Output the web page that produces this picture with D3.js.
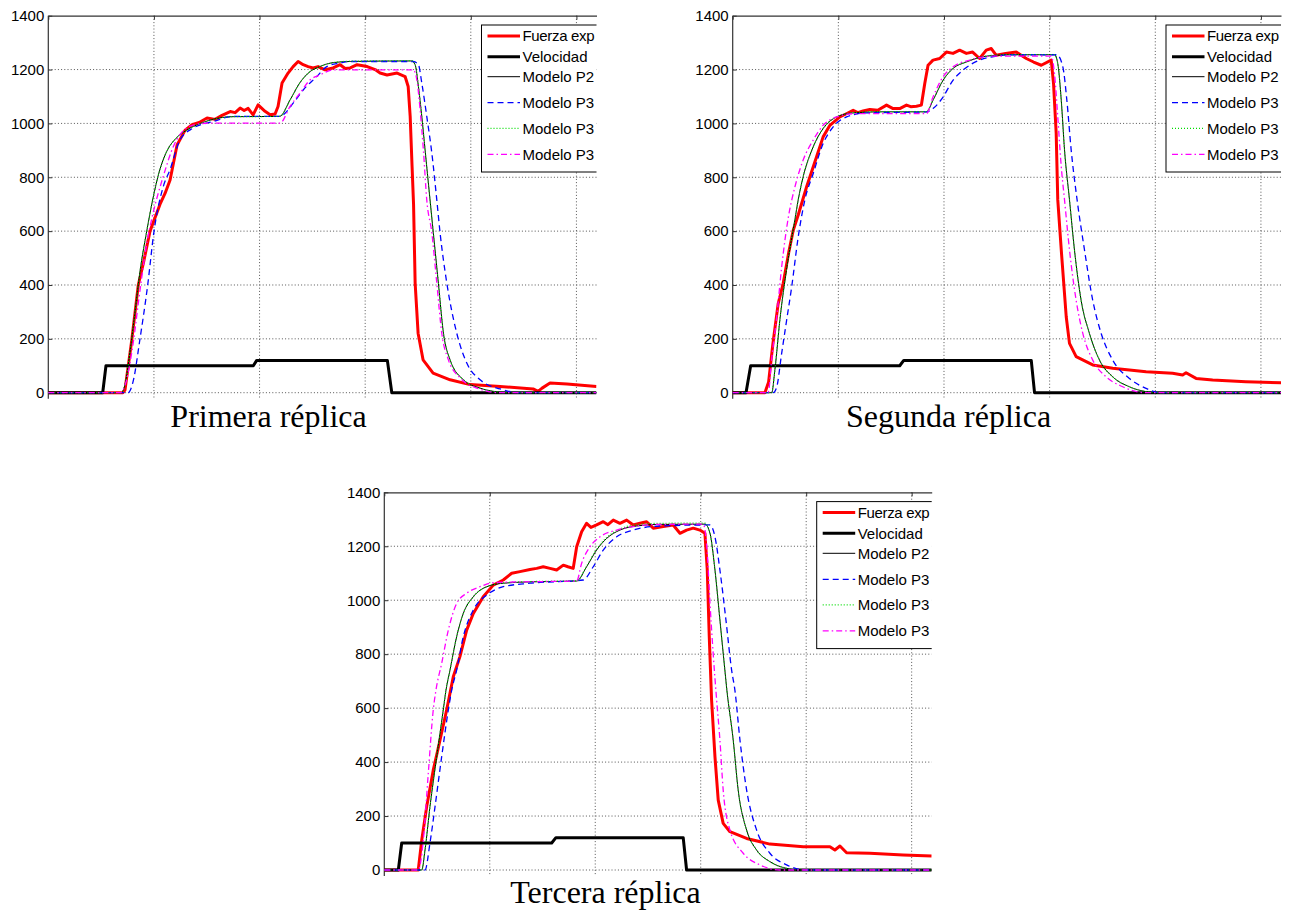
<!DOCTYPE html>
<html lang="es">
<head>
  <meta charset="UTF-8">
  <title>Réplicas: fuerza experimental y modelos</title>
  <script src="https://d3js.org/d3.v7.min.js"></script>
  <style>
    body { margin: 0; background: white; }
    svg { display: block; }
    .tick text { font-family: "Liberation Sans", Arial, sans-serif; font-size: 15px; fill: #000; }
    .legend text { font-family: "Liberation Sans", Arial, sans-serif; font-size: 15px; }
    .caption { font-family: "Liberation Serif", "Times New Roman", serif; font-size: 32px; }
  </style>
</head>
<body>
  <div id="chart"></div>
  <script>
    // ticks & labels
    const xTicks = [0, 1, 2, 3, 4, 5];
    const yTicks = [0, 200, 400, 600, 800, 1000, 1200, 1400];
    const captions = ["Primera réplica", "Segunda réplica", "Tercera réplica"];
    // the legend is cut by the right edge of each panel in the original
    const legendLabels = ["Fuerza exp", "Velocidad", "Modelo P2", "Modelo P3", "Modelo P3", "Modelo P3"];

    // ---- Primera réplica ----
    const fuerza1 = [[0,0],[0.707,0],[0.726,10],[0.79,195],[0.852,400],[0.9,481],[0.963,600],[1.058,700],[1.105,740],[1.153,790],[1.219,920],[1.295,975],[1.361,995],[1.436,1005],[1.503,1020],[1.579,1015],[1.645,1030],[1.722,1044],[1.769,1040],[1.816,1057],[1.854,1048],[1.892,1056],[1.939,1032],[1.986,1069],[2.024,1055],[2.052,1045],[2.1,1032],[2.147,1035],[2.175,1063],[2.213,1150],[2.27,1187],[2.318,1211],[2.365,1230],[2.413,1218],[2.46,1211],[2.507,1206],[2.554,1211],[2.62,1199],[2.696,1206],[2.763,1218],[2.81,1204],[2.858,1206],[2.924,1218],[3.019,1211],[3.094,1200],[3.141,1187],[3.207,1180],[3.302,1187],[3.378,1174],[3.407,1137],[3.426,1026],[3.444,840],[3.458,700],[3.473,407],[3.501,221],[3.548,122],[3.643,73],[3.804,48],[3.993,30],[4.277,23],[4.59,14],[4.637,5],[4.675,17],[4.75,36],[4.911,32],[5.19,23]];
    const velocidad1 = [[0,0],[0.515,0],[0.546,100],[1.941,100],[1.973,120],[3.21,120],[3.252,0],[5.19,0]];
    const modeloP2_1 = [[0,0],[0.689,0],[0.726,30],[0.773,150],[0.821,300],[0.868,450],[0.932,600],[0.99,720],[1.05,820],[1.12,895],[1.21,945],[1.31,975],[1.44,1000],[1.59,1018],[1.75,1025],[2.19,1026],[2.29,1088],[2.38,1150],[2.48,1193],[2.57,1211],[2.7,1226],[2.86,1230],[3.44,1232],[3.473,1218],[3.504,1137],[3.536,1026],[3.567,902],[3.614,716],[3.645,594],[3.693,407],[3.741,221],[3.804,122],[3.93,48],[4.088,17],[4.214,5],[4.33,0],[5.19,0]];
    const modeloP3a_1 = [[0,0],[0.755,0],[0.802,40],[0.868,200],[0.941,400],[1.001,600],[1.089,766],[1.152,828],[1.247,939],[1.373,983],[1.563,1007],[1.749,1026],[2.19,1026],[2.225,1032],[2.32,1076],[2.415,1125],[2.542,1174],[2.636,1211],[2.762,1224],[2.857,1230],[3.456,1230],[3.504,1218],[3.536,1150],[3.583,1026],[3.631,890],[3.678,716],[3.709,594],[3.773,407],[3.867,221],[3.962,110],[4.088,48],[4.277,14],[4.467,0],[5.19,0]];
    const modeloP3b_1 = [[0,0],[0.689,0],[0.726,30],[0.773,150],[0.821,300],[0.868,450],[0.932,600],[0.99,720],[1.05,820],[1.12,895],[1.21,945],[1.31,975],[1.44,1000],[1.59,1018],[1.75,1025],[2.19,1026],[2.29,1088],[2.38,1150],[2.48,1193],[2.57,1211],[2.7,1226],[2.86,1231],[3.44,1233],[3.473,1218],[3.504,1137],[3.536,1026],[3.567,902],[3.614,716],[3.645,594],[3.693,407],[3.741,221],[3.804,122],[3.93,48],[4.088,17],[4.214,5],[4.33,0],[5.19,0]];
    const modeloP3c_1 = [[0,0],[0.679,0],[0.736,40],[0.802,180],[0.868,380],[0.935,560],[0.982,650],[1.089,804],[1.184,914],[1.311,983],[1.437,999],[1.53,1001],[2.194,1001],[2.289,1063],[2.384,1113],[2.479,1162],[2.573,1180],[2.699,1199],[3.456,1199],[3.489,1162],[3.52,1051],[3.551,902],[3.583,716],[3.631,594],[3.678,407],[3.725,221],[3.788,122],[3.899,55],[4.057,17],[4.277,0],[5.19,0]];

    // ---- Segunda réplica ----
    const fuerza2 = [[0,0],[0.305,0],[0.34,40],[0.38,180],[0.43,330],[0.478,406],[0.53,520],[0.573,603],[0.62,660],[0.699,764],[0.794,876],[0.856,950],[0.92,993],[1.014,1024],[1.071,1035],[1.14,1049],[1.184,1040],[1.234,1046],[1.298,1052],[1.373,1049],[1.456,1068],[1.518,1055],[1.581,1055],[1.645,1068],[1.685,1062],[1.739,1064],[1.786,1068],[1.818,1148],[1.849,1216],[1.896,1235],[1.959,1241],[2.023,1265],[2.085,1260],[2.148,1272],[2.212,1260],[2.271,1265],[2.337,1241],[2.4,1272],[2.448,1278],[2.495,1253],[2.583,1260],[2.684,1265],[2.779,1241],[2.848,1228],[2.921,1216],[3.015,1235],[3.037,1148],[3.062,963],[3.077,716],[3.11,530],[3.157,282],[3.188,183],[3.251,134],[3.408,103],[3.597,91],[3.913,78],[4.164,72],[4.259,66],[4.291,74],[4.386,53],[4.543,47],[4.858,41],[5.19,37]];
    const velocidad2 = [[0,0],[0.126,0],[0.17,100],[1.581,100],[1.619,120],[2.826,120],[2.857,0],[5.19,0]];
    const modeloP2_2 = [[0,0],[0.369,0],[0.4,87],[0.447,272],[0.51,458],[0.589,643],[0.62,716],[0.667,802],[0.762,913],[0.856,981],[0.983,1024],[1.14,1039],[1.392,1043],[1.834,1043],[1.896,1086],[1.991,1160],[2.085,1204],[2.212,1228],[2.337,1245],[2.495,1253],[2.64,1255],[3.046,1255],[3.077,1222],[3.11,1086],[3.141,901],[3.188,716],[3.235,530],[3.298,343],[3.377,220],[3.472,121],[3.597,59],[3.755,22],[3.913,4],[4.04,0],[5.19,0]];
    const modeloP3a_2 = [[0,0],[0.384,0],[0.416,20],[0.463,145],[0.51,268],[0.558,392],[0.62,578],[0.683,716],[0.762,814],[0.856,925],[0.951,987],[1.078,1024],[1.26,1039],[1.834,1043],[1.896,1055],[1.991,1098],[2.085,1160],[2.18,1198],[2.337,1235],[2.495,1250],[2.64,1255],[3.068,1255],[3.125,1210],[3.163,1086],[3.204,901],[3.26,716],[3.33,530],[3.408,343],[3.488,220],[3.597,121],[3.755,53],[3.913,16],[4.04,0],[5.19,0]];
    const modeloP3b_2 = [[0,0],[0.369,0],[0.4,87],[0.447,272],[0.51,458],[0.589,643],[0.62,716],[0.667,802],[0.762,913],[0.856,981],[0.983,1024],[1.14,1040],[1.392,1044],[1.834,1044],[1.896,1087],[1.991,1161],[2.085,1205],[2.212,1229],[2.337,1246],[2.495,1254],[2.64,1256],[3.046,1256],[3.077,1222],[3.11,1086],[3.141,901],[3.188,716],[3.235,530],[3.298,343],[3.377,220],[3.472,121],[3.597,59],[3.755,22],[3.913,4],[4.04,0],[5.19,0]];
    const modeloP3c_2 = [[0,0],[0.336,0],[0.369,126],[0.416,280],[0.463,465],[0.526,650],[0.589,764],[0.667,864],[0.762,938],[0.856,993],[0.983,1024],[1.14,1036],[1.834,1036],[1.896,1098],[1.991,1173],[2.085,1210],[2.243,1235],[2.495,1250],[3.015,1250],[3.046,1185],[3.077,1024],[3.11,839],[3.141,716],[3.188,530],[3.251,343],[3.314,220],[3.408,121],[3.535,59],[3.692,22],[3.913,0],[5.19,0]];

    // ---- Tercera réplica ----
    const fuerza3 = [[0,0],[0.322,0],[0.355,111],[0.402,235],[0.464,370],[0.528,481],[0.591,593],[0.654,716],[0.717,791],[0.781,889],[0.844,951],[0.938,1013],[1.033,1056],[1.128,1075],[1.208,1100],[1.286,1106],[1.381,1114],[1.445,1118],[1.507,1124],[1.571,1118],[1.634,1112],[1.697,1130],[1.741,1124],[1.791,1118],[1.824,1198],[1.871,1254],[1.918,1285],[1.959,1270],[2.013,1279],[2.076,1291],[2.12,1280],[2.171,1297],[2.234,1285],[2.298,1297],[2.36,1279],[2.424,1285],[2.487,1291],[2.55,1267],[2.645,1273],[2.739,1279],[2.803,1248],[2.866,1260],[2.929,1267],[2.992,1260],[3.04,1248],[3.062,1112],[3.081,865],[3.103,630],[3.135,420],[3.166,259],[3.213,173],[3.277,142],[3.435,117],[3.656,96],[3.972,86],[4.225,86],[4.272,74],[4.32,89],[4.383,64],[4.604,62],[4.919,56],[5.19,52]];
    const velocidad3 = [[0,0],[0.133,0],[0.165,100],[1.587,100],[1.627,120],[2.834,120],[2.866,0],[5.19,0]];
    const modeloP2_3 = [[0,0],[0.355,0],[0.386,74],[0.433,235],[0.497,420],[0.559,593],[0.585,667],[0.623,741],[0.686,865],[0.749,951],[0.844,1013],[0.971,1050],[1.128,1063],[1.381,1068],[1.824,1071],[1.918,1124],[2.013,1186],[2.108,1229],[2.234,1260],[2.392,1275],[2.613,1281],[3.04,1282],[3.088,1248],[3.135,1112],[3.182,927],[3.229,741],[3.248,667],[3.308,482],[3.355,297],[3.435,148],[3.53,74],[3.656,31],[3.814,6],[3.94,0],[5.19,0]];
    const modeloP3a_3 = [[0,0],[0.386,0],[0.433,100],[0.481,235],[0.544,420],[0.607,593],[0.639,667],[0.686,741],[0.749,865],[0.844,964],[0.971,1019],[1.128,1050],[1.381,1063],[1.886,1075],[1.981,1124],[2.076,1186],[2.203,1235],[2.36,1260],[2.613,1275],[3.086,1279],[3.135,1235],[3.182,1112],[3.239,927],[3.293,741],[3.324,667],[3.372,482],[3.435,297],[3.53,148],[3.656,62],[3.814,19],[4.0,0],[5.19,0]];
    const modeloP3b_3 = [[0,0],[0.355,0],[0.386,74],[0.433,235],[0.497,420],[0.559,593],[0.585,667],[0.623,741],[0.686,865],[0.749,951],[0.844,1013],[0.971,1050],[1.128,1064],[1.381,1069],[1.824,1072],[1.918,1126],[2.013,1189],[2.108,1232],[2.234,1264],[2.392,1280],[2.613,1285],[3.04,1286],[3.088,1248],[3.135,1112],[3.182,927],[3.229,741],[3.248,667],[3.308,482],[3.355,297],[3.435,148],[3.53,74],[3.656,31],[3.814,6],[3.94,0],[5.19,0]];
    const modeloP3c_3 = [[0,0],[0.322,0],[0.37,111],[0.417,358],[0.464,593],[0.49,667],[0.544,766],[0.607,889],[0.686,988],[0.781,1026],[0.907,1050],[1.033,1065],[1.286,1068],[1.824,1071],[1.871,1137],[1.95,1198],[2.045,1235],[2.203,1260],[2.392,1275],[2.613,1281],[3.024,1282],[3.062,1174],[3.088,988],[3.118,803],[3.151,630],[3.182,482],[3.213,297],[3.277,148],[3.403,62],[3.561,19],[3.75,0],[5.19,0]];

    const styles = [
      { stroke: "#ff0000", width: 3, dash: null, smooth: false },
      { stroke: "#000000", width: 3, dash: null, smooth: false },
      { stroke: "#000000", width: 1, dash: null, smooth: true },
      { stroke: "#0000ff", width: 1.3, dash: "6,4", smooth: true },
      { stroke: "#00dd00", width: 1.2, dash: "1,2", smooth: true },
      { stroke: "#ff00ff", width: 1.3, dash: "6,3,1.5,3", smooth: true }
    ];

    const panels = [
      { left: 48.3, right: 596.5, top: 15.7, bottom: 392.7, capX: 268.5, capY: 427, caption: captions[0],
        series: [fuerza1, velocidad1, modeloP2_1, modeloP3a_1, modeloP3b_1, modeloP3c_1] },
      { left: 732.7, right: 1281, top: 15.7, bottom: 392.7, capX: 948.5, capY: 427, caption: captions[1],
        series: [fuerza2, velocidad2, modeloP2_2, modeloP3a_2, modeloP3b_2, modeloP3c_2] },
      { left: 384.3, right: 931.7, top: 492.3, bottom: 870, capX: 605.5, capY: 903, caption: captions[2],
        series: [fuerza3, velocidad3, modeloP2_3, modeloP3a_3, modeloP3b_3, modeloP3c_3] }
    ];

    const legendRows = [11, 31.7, 51.7, 77.7, 103.3, 129.3];

    const svg = d3.select("#chart").append("svg")
      .attr("width", 1296)
      .attr("height", 911);

    svg.append("rect").attr("width", 1296).attr("height", 911).attr("fill", "white");

    panels.forEach((p, pi) => {
      const x = d3.scaleLinear().domain([0, 5.19]).range([p.left, p.right]);
      const y = d3.scaleLinear().domain([0, 1400]).range([p.bottom, p.top]);
      const g = svg.append("g");

      const clipId = "clip" + pi;
      svg.append("clipPath").attr("id", clipId)
        .append("rect")
        .attr("x", p.left - 60).attr("y", p.top - 20)
        .attr("width", p.right - p.left + 60).attr("height", p.bottom - p.top + 40);

      // dotted grid
      g.append("g").selectAll("line")
        .data(yTicks.filter(d => d < 1400))
        .join("line")
        .attr("x1", p.left).attr("x2", p.right)
        .attr("y1", d => y(d)).attr("y2", d => y(d))
        .attr("stroke", "#555").attr("stroke-width", 1).attr("stroke-dasharray", "1,2.2");

      g.append("g").selectAll("line")
        .data(xTicks.filter(d => d > 0))
        .join("line")
        .attr("x1", d => x(d)).attr("x2", d => x(d))
        .attr("y1", p.top).attr("y2", p.bottom + 6)
        .attr("stroke", "#555").attr("stroke-width", 1).attr("stroke-dasharray", "1,2.2");

      // axes
      const yAxis = g.append("g")
        .attr("transform", `translate(${p.left},0)`)
        .call(d3.axisLeft(y).tickValues(yTicks).tickFormat(d3.format("d"))
          .tickSizeInner(-4).tickSizeOuter(0).tickPadding(4));
      yAxis.select(".domain").remove();
      yAxis.selectAll(".tick line").attr("stroke", "#333");

      g.append("line")
        .attr("x1", p.left).attr("x2", p.left)
        .attr("y1", p.top).attr("y2", p.bottom + 6)
        .attr("stroke", "#333").attr("stroke-width", 1.2);

      const topAxis = g.append("g")
        .attr("transform", `translate(0,${p.top})`)
        .call(d3.axisTop(x).tickValues(xTicks).tickSizeInner(-4).tickSizeOuter(0).tickFormat(""));
      topAxis.select(".domain").attr("stroke", "#333").attr("stroke-width", 1.2);
      topAxis.selectAll(".tick line").attr("stroke", "#333");

      // series
      const lines = g.append("g").attr("clip-path", `url(#${clipId})`);
      p.series.forEach((data, i) => {
        const s = styles[i];
        const line = d3.line()
          .x(d => x(d[0]))
          .y(d => y(d[1]))
          .curve(s.smooth ? d3.curveMonotoneX : d3.curveLinear);
        lines.append("path")
          .datum(data)
          .attr("fill", "none")
          .attr("stroke", s.stroke)
          .attr("stroke-width", s.width)
          .attr("stroke-dasharray", s.dash)
          .attr("stroke-linejoin", "round")
          .attr("d", line);
      });

      // legend, box cut by the panel edge
      const lx = p.right - 115;
      const ly = p.top + 9.3;
      const legend = g.append("g").attr("class", "legend");
      legend.append("rect")
        .attr("clip-path", `url(#${clipId})`)
        .attr("x", lx).attr("y", ly)
        .attr("width", 160).attr("height", 147)
        .attr("fill", "white").attr("stroke", "#000").attr("stroke-width", 1);
      legendLabels.forEach((label, i) => {
        const s = styles[i];
        const ry = ly + legendRows[i];
        legend.append("line")
          .attr("x1", lx + 6).attr("x2", lx + 38.5)
          .attr("y1", ry).attr("y2", ry)
          .attr("stroke", s.stroke).attr("stroke-width", s.width)
          .attr("stroke-dasharray", s.dash);
        legend.append("text")
          .attr("x", lx + 41).attr("y", ry)
          .attr("dy", "0.35em")
          .attr("textLength", i === 0 ? 72 : null)
          .text(label);
      });

      svg.append("text")
        .attr("class", "caption")
        .attr("x", p.capX).attr("y", p.capY)
        .attr("text-anchor", "middle")
        .text(p.caption);
    });
  </script>
</body>
</html>
